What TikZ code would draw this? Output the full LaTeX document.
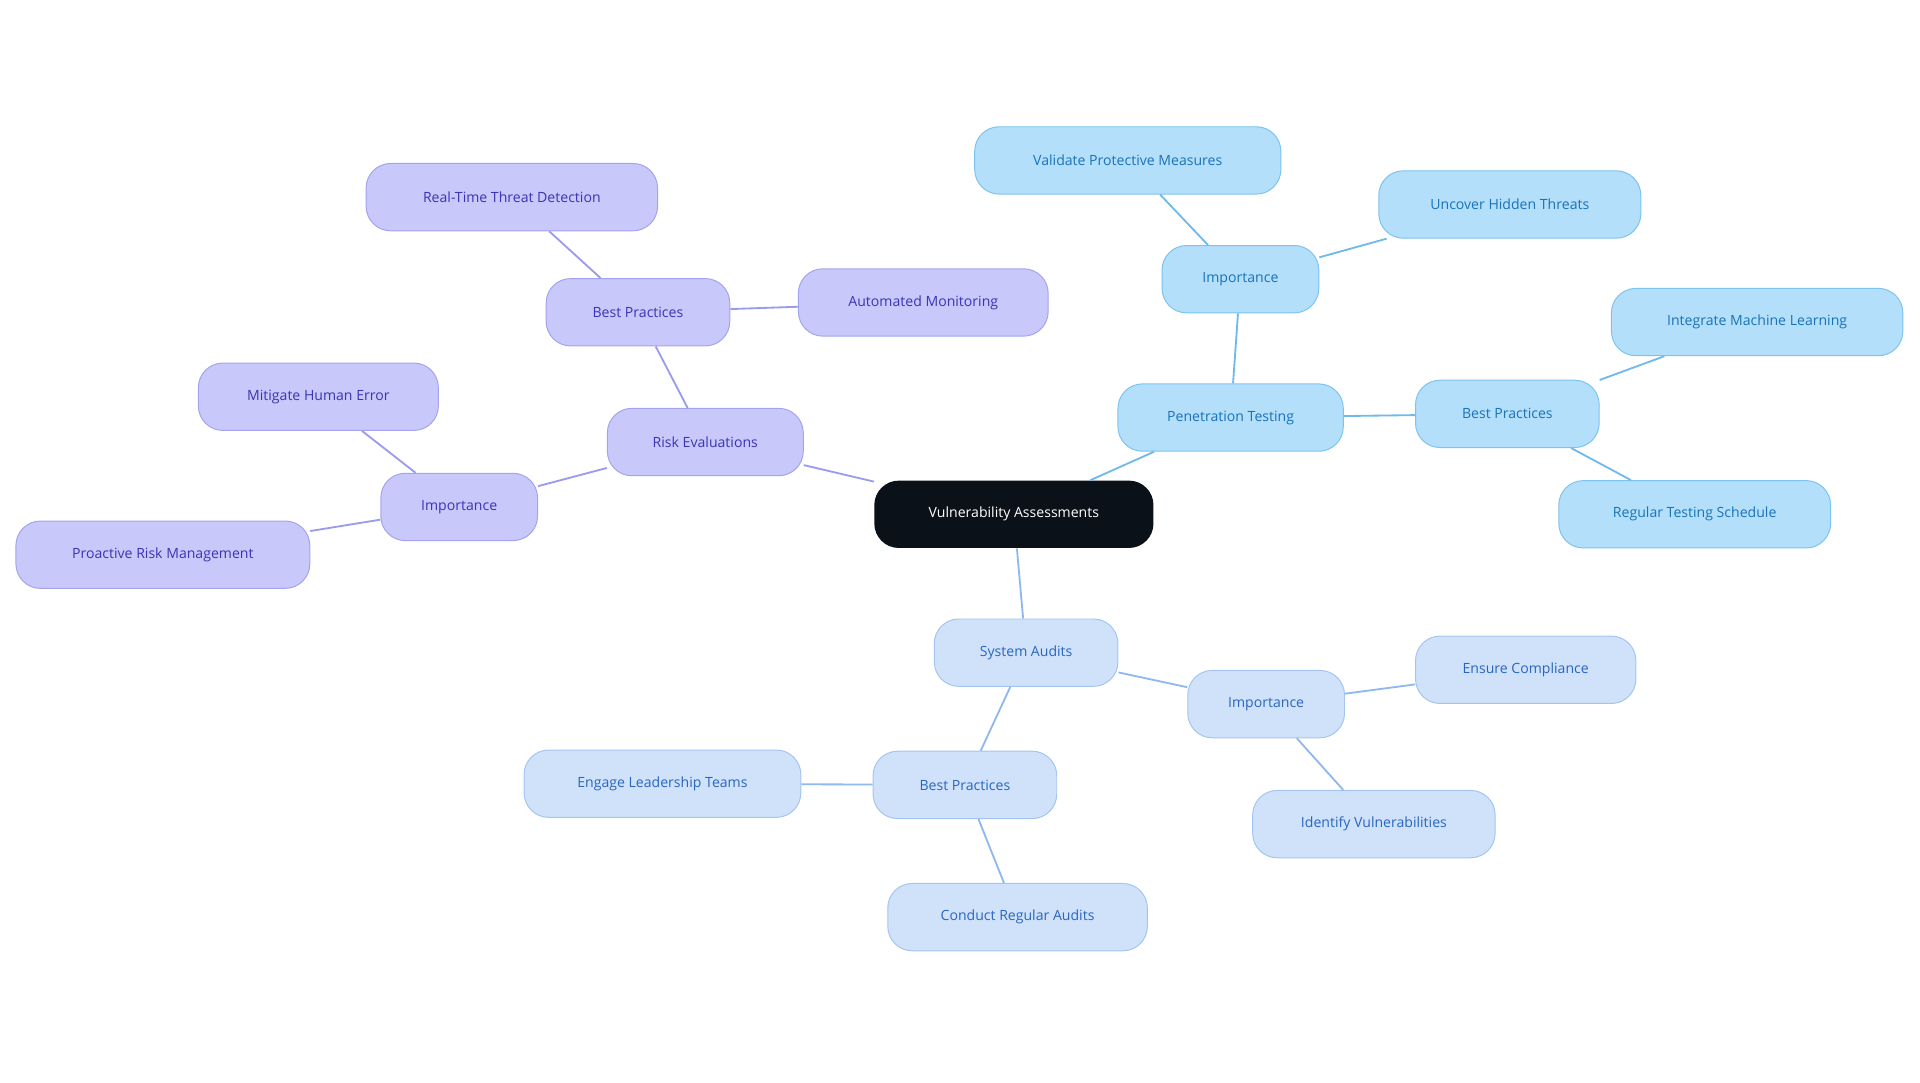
\documentclass[tikz,border=0pt]{standalone}
\usepackage{fontspec}
\setmainfont{Open Sans}
\definecolor{pf}{HTML}{C8C8FA}\definecolor{pd}{HTML}{A3A3EE}\definecolor{pt}{HTML}{3B35B5}\definecolor{pe}{HTML}{9B9BEE}
\definecolor{bf}{HTML}{B3DFFB}\definecolor{bd}{HTML}{7CC3EF}\definecolor{bt}{HTML}{1A73B8}\definecolor{be}{HTML}{6FB9EC}
\definecolor{lf}{HTML}{CFE2FA}\definecolor{ld}{HTML}{A3C5F0}\definecolor{lt}{HTML}{2A66C0}\definecolor{le}{HTML}{8FB8EE}
\definecolor{cf}{HTML}{0B1119}
\begin{document}
\begin{tikzpicture}[x=1pt,y=-1pt,
 base/.style={rounded corners=20pt,minimum height=55pt,font=\fontsize{11.5}{13}\selectfont,line width=0.8pt,anchor=center},
 pn/.style={base,fill=pf,draw=pd,text=pt},
 bn/.style={base,fill=bf,draw=bd,text=bt},
 ln/.style={base,fill=lf,draw=ld,text=lt},
 pl/.style={pe,line width=1.5pt},bl/.style={be,line width=1.5pt},ll/.style={le,line width=1.5pt}]
\useasboundingbox (0,0) rectangle (1568,884);
\node[base,fill=cf,text=white,minimum width=228pt] (va) at (828,420) {Vulnerability Assessments};
\node[pn,minimum width=160pt] (re) at (576,361) {Risk Evaluations};
\node[pn,minimum width=150pt] (rbp) at (521,255) {Best Practices};
\node[pn,minimum width=238pt] (rt) at (418,161) {Real-Time Threat Detection};
\node[pn,minimum width=204pt] (am) at (754,247) {Automated Monitoring};
\node[pn,minimum width=128pt] (ri) at (375,414) {Importance};
\node[pn,minimum width=196pt] (mh) at (260,324) {Mitigate Human Error};
\node[pn,minimum width=240pt] (pr) at (133,453) {Proactive Risk Management};
\node[bn,minimum width=184pt] (pt) at (1005,341) {Penetration Testing};
\node[bn,minimum width=128pt] (pi) at (1013,228) {Importance};
\node[bn,minimum width=250pt] (vp) at (921,131) {Validate Protective Measures};
\node[bn,minimum width=214pt] (uh) at (1233,167) {Uncover Hidden Threats};
\node[bn,minimum width=150pt] (pbp) at (1231,338) {Best Practices};
\node[bn,minimum width=238pt] (im) at (1435,263) {Integrate Machine Learning};
\node[bn,minimum width=222pt] (rts) at (1384,420) {Regular Testing Schedule};
\node[ln,minimum width=150pt] (sa) at (838,533) {System Audits};
\node[ln,minimum width=128pt] (si) at (1034,575) {Importance};
\node[ln,minimum width=180pt] (ec) at (1246,547) {Ensure Compliance};
\node[ln,minimum width=198pt] (iv) at (1122,673) {Identify Vulnerabilities};
\node[ln,minimum width=150pt] (sbp) at (788,641) {Best Practices};
\node[ln,minimum width=226pt] (el) at (541,640) {Engage Leadership Teams};
\node[ln,minimum width=212pt] (cr) at (831,749) {Conduct Regular Audits};
\draw[pl] (va)--(re); \draw[pl] (re)--(rbp); \draw[pl] (rbp)--(rt); \draw[pl] (rbp)--(am);
\draw[pl] (re)--(ri); \draw[pl] (ri)--(mh); \draw[pl] (ri)--(pr);
\draw[bl] (va)--(pt); \draw[bl] (pt)--(pi); \draw[bl] (pi)--(vp); \draw[bl] (pi)--(uh);
\draw[bl] (pt)--(pbp); \draw[bl] (pbp)--(im); \draw[bl] (pbp)--(rts);
\draw[ll] (va)--(sa); \draw[ll] (sa)--(si); \draw[ll] (si)--(ec); \draw[ll] (si)--(iv);
\draw[ll] (sa)--(sbp); \draw[ll] (sbp)--(el); \draw[ll] (sbp)--(cr);
\end{tikzpicture}
\end{document}
